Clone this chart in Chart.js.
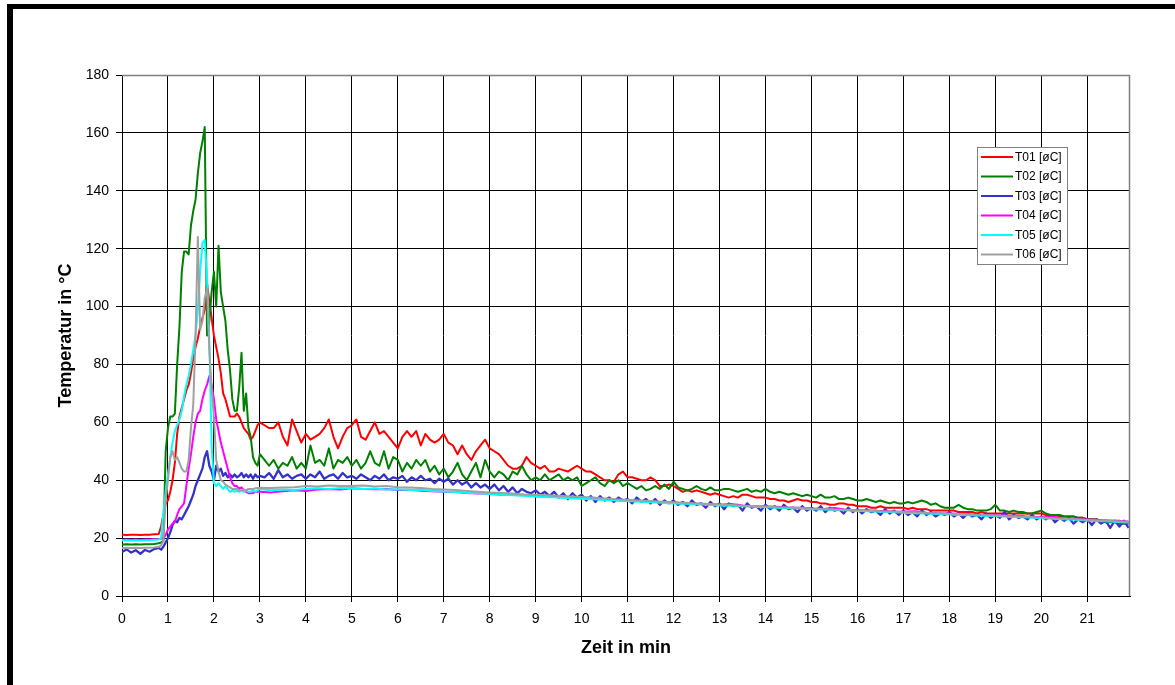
<!DOCTYPE html>
<html lang="de">
<head>
<meta charset="utf-8">
<title>Temperaturverlauf T01–T06</title>
<script src="https://cdn.jsdelivr.net/npm/chart.js"></script>
<style>
  html, body { margin: 0; padding: 0; background: #fff; }
  #chart { display: block; }
</style>
</head>
<body>
<canvas id="chart" width="1175" height="685"></canvas>
<script>
// Sampling instants in minutes: coarse before ignition, dense around the peak,
// then every 0.1 min (fine series) or every 0.25 min (smooth series).
function span(from, to, step) {
  const out = [];
  const n = Math.round((to - from) / step);
  for (let i = 0; i <= n; i++) out.push(+(from + i * step).toFixed(2));
  return out;
}
const timeFine = [...span(0, 0.8, 0.1), ...span(0.85, 3.0, 0.05), ...span(3.1, 21.9, 0.1)];
const timeCoarse = [...span(0, 0.8, 0.1), ...span(0.85, 3.0, 0.05), ...span(3.25, 21.75, 0.25), 21.9];

const seriesNames = ['T01 [øC]', 'T02 [øC]', 'T03 [øC]', 'T04 [øC]', 'T05 [øC]', 'T06 [øC]'];
const seriesColors = ['#ff0000', '#008000', '#3333cc', '#ff00ff', '#00ffff', '#a0a0a0'];
const seriesWidths = [2, 2, 2.3, 2, 2, 2];

const xTickMax = 21;
const yTickMax = 180;
const yTickStep = 20;

// T01 (fine sampling)
const t01 = [
  21.2, 21.1, 21.2, 21.2, 21.1, 21.2, 21.2, 21.3, 21.4,
  24, 28, 32, 33, 36, 40, 46, 56, 62, 65, 68, 71, 73, 77, 82, 86, 89, 93, 96, 99,
  108, 102, 96, 90, 86, 82, 77, 70, 68, 65, 62, 62, 62, 63, 62, 60, 58, 57, 56, 54, 55, 57, 59, 60,
  59, 58, 58, 60, 55, 52, 61, 57, 53,
  56, 54, 55, 56, 58, 61, 55, 51, 55, 58,
  59, 61, 55, 54, 57, 60, 56, 57, 55, 53,
  51, 55, 57, 55, 57, 52, 56, 54, 53, 54,
  56, 53, 52, 49, 52, 49, 47, 50, 52, 54,
  51, 50, 49, 47, 45, 44, 44, 45, 48, 46,
  45, 44, 45, 43, 43, 44, 43.5, 43, 44, 45,
  44, 43, 43, 42, 41, 40, 40, 39.5, 42, 43,
  41, 41, 40.5, 40, 40, 41, 40, 38, 38, 38.5,
  38, 37, 36, 36.5, 36, 36.5, 36, 35.5, 35, 35.5,
  35, 34.5, 34, 34.5, 34, 35, 35, 34.5, 34, 34,
  34, 33.5, 33.5, 33, 33, 32.5, 33, 33.5, 33, 33,
  32.5, 32.5, 32, 32, 31.5, 31.5, 32, 32, 31.5, 31.5,
  31, 31, 31, 30.5, 30.5, 31, 30.5, 30.5, 30.5, 30.5,
  30.5, 30, 30.5, 30, 30, 30, 29.5, 29.5, 29.5, 29.5,
  29.5, 29.5, 29, 29, 29, 29, 28.5, 29, 28.5, 28.5,
  28.5, 28.5, 28.5, 28.5, 28.5, 28.5, 28.5, 28.5, 28.5, 28.5,
  28.5, 28, 28, 28, 27.5, 27.5, 27.5, 27.5, 27, 27,
  26.5, 26.5, 26.5, 26, 26, 26, 26, 26, 25.5, 25.5
];

// T02 (fine sampling)
const t02 = [
  17.8, 17.9, 17.8, 17.9, 17.8, 17.9, 17.9, 18, 18.2,
  18.5, 19, 50, 58, 62, 62, 63, 80, 93, 112, 119, 119, 118, 128, 133, 137, 146, 153, 157, 162,
  90, 95, 105, 112, 100, 121, 105, 100, 95, 85, 78, 68, 64, 64, 72, 84, 64, 70, 58, 55, 48, 46, 45, 49,
  47, 45, 47, 44, 46, 45, 48, 44, 46,
  44, 52, 46, 47, 45, 51, 44, 47, 46, 48,
  45, 47, 44, 46, 50, 46, 45, 50, 44, 48,
  47, 43, 46, 44, 47, 45, 47, 43, 45, 42,
  44, 41, 43, 46, 42, 40, 43, 46, 41, 47,
  43, 41, 43, 42, 40, 43, 42, 45, 42, 40,
  41, 40, 42, 40, 41, 42, 40, 41, 40, 41,
  38, 39, 40, 41, 39, 38, 40, 39, 40, 38,
  39, 38, 37, 38, 36.5, 37, 38, 37, 38.5, 37,
  39.5, 37.5, 37, 36.5, 37, 38, 37, 36.5, 37.5, 36.5,
  36.5, 37, 37, 36.5, 36, 36.5, 37, 36, 36.5, 36,
  37, 36, 35.5, 36, 35.5, 35, 35.5, 35, 34.5, 35,
  34.5, 34, 35, 34, 34, 34.5, 33.5, 33.5, 34, 33.5,
  33, 33, 33.5, 33, 32.5, 33, 32.5, 32, 32.5, 32,
  32, 32.5, 32, 32.5, 33, 32.5, 31.5, 32, 31, 30.5,
  30.5, 30.5, 31.5, 30.5, 30, 30, 29.5, 29.5, 29.5, 30,
  31.5, 29.5, 29.5, 29, 29.5, 29, 29, 28.5, 28.5, 29,
  29.5, 28.5, 28, 28, 28, 27.5, 27.5, 27.5, 27, 27,
  26.5, 26.5, 26, 26, 25.5, 25.5, 25.5, 25, 25, 25
];

// T03 (fine sampling, noisy sensor)
const t03 = [
  15.2, 16.1, 15, 15.8, 14.6, 15.9, 15.3, 16.2, 16.6,
  16, 17, 18.5, 20, 22, 24.5, 26, 25.5, 27, 26.5, 28, 29.5, 31, 33, 35, 38, 40, 42, 44, 48,
  50, 45, 43, 40, 45, 43, 44, 41.5, 42.5, 41, 42, 41, 42, 41, 41.5, 42.5, 41, 42, 41, 42, 40.5, 42, 41, 41.5,
  41, 42.5, 40.5, 43.5, 41, 42, 40.5, 41.5, 42,
  40.5, 42, 41, 43, 40.5, 41.5, 42, 40.5, 42.5, 41,
  41.5, 40.5, 42, 41, 40, 41.5, 40.5, 42, 40, 41,
  40.5, 41.5, 39.5, 41, 40, 41.5, 40, 40.5, 39, 40.5,
  39.5, 40.5, 38.5, 40, 38.5, 39.5, 37.5, 39, 37.5, 38.5,
  37, 38.5, 36.5, 38, 36, 37.5, 35.5, 37, 36, 35.5,
  36.5, 35, 36, 34.5, 36, 34, 35.5, 33.5, 35.5, 34,
  35, 33, 34.5, 32.5, 34.5, 33, 34, 32.5, 34, 33,
  33.5, 32, 34, 32.5, 33.5, 32, 33.5, 31.5, 33, 32,
  33, 31.5, 32.5, 31, 33, 31.5, 32, 30.5, 32.5, 31,
  32, 30, 32, 31, 31.5, 29.5, 32, 30.5, 31, 29.5,
  31.5, 30, 31, 29.5, 31.5, 30, 30.5, 29, 31, 29.5,
  30.5, 29.5, 31, 29, 30.5, 29.5, 30, 28.5, 30.5, 29,
  30, 28.5, 30, 29, 29.5, 28, 30, 28.5, 29.5, 28,
  29.5, 28, 29, 27.5, 29.5, 28, 29, 27.5, 28.5, 28,
  29, 27.5, 28.5, 27, 28.5, 27.5, 28, 26.5, 28.5, 27,
  28, 27, 29, 26.5, 28, 27, 27.5, 26.5, 28, 26.5,
  27.5, 26.5, 27.5, 25.5, 27, 26, 27, 25, 26.5, 25.5,
  26.5, 24.5, 26.5, 25, 26, 23.5, 26, 24, 26, 23.5
];

// T04 (coarse sampling)
const t04 = [
  19.4, 19.5, 19.4, 19.5, 19.4, 19.5, 19.5, 19.6, 19.7,
  19.8, 20, 21, 23, 24, 25, 25.5, 28, 30, 31, 32, 38, 44, 49, 55, 60, 63, 64, 68, 71,
  73, 76, 73, 68, 61, 57, 53, 50, 47, 44, 41, 39, 38, 38, 37, 37.5, 36.5, 36, 35.5, 35.5, 35.5, 36, 36, 36,
  35.8, 36.2, 36.5, 36.3, 36.8, 37, 36.8, 37.2, 37, 36.9, 37, 36.6, 36.7, 36.4, 36.2, 36,
  35.9, 35.6, 35.4, 35.3, 35, 34.9, 34.8, 34.5, 34.3, 34.2, 33.9, 33.8, 33.5, 33.4, 33.1, 33,
  32.8, 32.6, 32.4, 32.3, 32, 31.9, 31.8, 31.5, 31.8, 31.3, 31, 30.9, 30.8, 30.5, 30.5, 30.2,
  30.1, 30.4, 29.8, 29.6, 29.5, 29.4, 29.2, 29.1, 29.3, 28.8, 28.6, 28.5, 28.3, 28.2, 28, 27.9,
  27.7, 27.6, 27.4, 27.2, 27.4, 26.8, 26.6, 26.4, 26.2, 26, 25.8, 25.7
];

// T05 (coarse sampling)
const t05 = [
  19.2, 19.3, 19.2, 19.3, 19.2, 19.3, 19.3, 19.4, 19.5,
  20, 29, 36, 42, 48, 53, 57, 59, 61, 64, 69, 73, 76, 80, 85, 90, 99, 112, 122, 123,
  110, 88, 52, 39, 38, 39, 38, 37, 38, 37, 36, 36.5, 36, 36.5, 36, 36.5, 36, 36.5, 36, 36, 36.5, 36, 36.5, 37,
  36.5, 36.8, 36.6, 37, 37.2, 37, 37.3, 37.2, 37, 37.1, 36.8, 36.9, 36.6, 36.7, 36.3, 36.1,
  35.9, 35.7, 35.5, 35.2, 35, 34.8, 34.6, 34.4, 34.2, 34, 33.8, 33.6, 33.4, 33.2, 33, 32.8,
  32.6, 32.4, 32.2, 32, 31.9, 31.7, 31.5, 31.3, 31.2, 31, 30.8, 30.7, 30.5, 30.3, 30.2, 30,
  29.9, 29.7, 29.6, 29.4, 29.3, 29.1, 29, 28.8, 28.6, 28.5, 28.3, 28.2, 28, 27.9, 27.7, 27.6,
  27.4, 27.3, 27.1, 26.9, 26.7, 26.5, 26.3, 26.1, 25.9, 25.7, 25.5, 25.4
];

// T06 (coarse sampling)
const t06 = [
  16.6, 16.7, 16.6, 16.7, 16.6, 16.7, 16.7, 16.8, 17,
  17.5, 19, 33, 40, 48, 50, 47, 48, 46, 44, 43, 43, 47, 58, 66, 90, 124, 92, 95, 103,
  106, 85, 72, 62, 47, 43, 40, 39.5, 38.5, 38, 37.5, 37, 37, 37, 36.5, 36.5, 36.8, 36.5, 37, 37, 37, 37.2, 37.3, 37.4,
  37.3, 37.5, 37.6, 38, 37.8, 38.2, 38, 38, 38.2, 37.8, 38, 37.6, 37.5, 37.3, 37, 36.8,
  36.6, 36.3, 36, 35.8, 35.6, 35.4, 35.1, 35, 34.8, 34.6, 34.4, 34.2, 34, 33.7, 33.4, 33.2,
  33, 32.8, 32.6, 32.4, 32.2, 32, 31.8, 31.6, 31.4, 31.2, 31.1, 30.9, 30.7, 30.6, 30.4, 30.2,
  30.1, 29.9, 29.8, 29.6, 29.5, 29.3, 29.2, 29, 28.9, 28.7, 28.6, 28.4, 28.3, 28.1, 28, 27.8,
  27.6, 27.5, 27.3, 27.1, 26.9, 26.7, 26.5, 26.3, 26.1, 25.9, 25.7, 25.6
];

const seriesValues = [t01, t02, t03, t04, t05, t06];
const seriesTimes = [timeFine, timeFine, timeFine, timeCoarse, timeCoarse, timeCoarse];

const FONT = "'Liberation Sans', Arial, Helvetica, sans-serif";

// Outer black frame (left and top edges) and white page.
const framePlugin = {
  id: 'frame',
  beforeDraw(chart) {
    const ctx = chart.ctx;
    ctx.save();
    ctx.fillStyle = '#ffffff';
    ctx.fillRect(0, 0, chart.width, chart.height);
    ctx.fillStyle = '#000000';
    ctx.fillRect(7, 4, chart.width - 7, 5);
    ctx.fillRect(7, 4, 6, chart.height - 4);
    ctx.restore();
  },
  afterDraw(chart) {
    // grey plot-area outline on the top and right sides
    const {left, top, right, bottom} = chart.chartArea;
    const ctx = chart.ctx;
    ctx.save();
    ctx.strokeStyle = '#808080';
    ctx.lineWidth = 1.5;
    ctx.beginPath();
    ctx.moveTo(left, top + 0.5);
    ctx.lineTo(right - 0.5, top + 0.5);
    ctx.lineTo(right - 0.5, bottom);
    ctx.stroke();
    ctx.restore();
  }
};

// Boxed legend sitting inside the plot area, upper right.
const boxLegendPlugin = {
  id: 'boxLegend',
  afterDraw(chart) {
    const ctx = chart.ctx;
    const x0 = 977, y0 = 147, w = 90, h = 117;
    ctx.save();
    ctx.fillStyle = '#ffffff';
    ctx.fillRect(x0, y0, w, h);
    ctx.strokeStyle = '#808080';
    ctx.lineWidth = 1;
    ctx.strokeRect(x0 + 0.5, y0 + 0.5, w, h);
    ctx.font = '12px ' + FONT;
    ctx.textBaseline = 'middle';
    ctx.textAlign = 'left';
    chart.data.datasets.forEach((ds, i) => {
      const y = y0 + 10 + i * 19.5;
      ctx.strokeStyle = ds.borderColor;
      ctx.lineWidth = 2;
      ctx.beginPath();
      ctx.moveTo(x0 + 4, y);
      ctx.lineTo(x0 + 36, y);
      ctx.stroke();
      ctx.fillStyle = '#000000';
      ctx.fillText(ds.label, x0 + 38, y + 0.5);
    });
    ctx.restore();
  }
};

const datasets = seriesNames.map((name, i) => ({
  label: name,
  data: seriesTimes[i].map((t, k) => ({x: t, y: seriesValues[i][k]})),
  borderColor: seriesColors[i],
  backgroundColor: seriesColors[i],
  borderWidth: seriesWidths[i],
  borderJoinStyle: 'round',
  pointRadius: 0,
  tension: 0,
  fill: false,
  order: seriesNames.length - i
}));

new Chart(document.getElementById('chart'), {
  type: 'line',
  data: { datasets },
  options: {
    responsive: false,
    animation: false,
    events: [],
    layout: { padding: { top: 75, right: 45, bottom: 0, left: 0 } },
    scales: {
      x: {
        type: 'linear',
        min: 0,
        max: 21.93,
        afterFit(scale) { scale.height = 89; },
        ticks: {
          stepSize: 1,
          includeBounds: false,
          autoSkip: false,
          maxRotation: 0,
          color: '#000',
          padding: 9,
          font: { family: FONT, size: 14 },
          callback: (v) => (v <= xTickMax ? String(v) : '')
        },
        grid: { color: '#000', lineWidth: 1, tickLength: 6, drawTicks: true },
        border: { display: true, color: '#000', width: 1 },
        title: {
          display: true,
          text: 'Zeit in min',
          color: '#000',
          font: { family: FONT, size: 18, weight: 'bold' },
          padding: { top: 0, bottom: 26 }
        }
      },
      y: {
        min: 0,
        max: yTickMax,
        afterFit(scale) { scale.width = 122; },
        ticks: {
          stepSize: yTickStep,
          color: '#000',
          padding: 7,
          font: { family: FONT, size: 14 }
        },
        grid: { color: '#000', lineWidth: 1, tickLength: 6, drawTicks: true },
        border: { display: true, color: '#000', width: 1 },
        title: {
          display: true,
          text: 'Temperatur in °C',
          color: '#000',
          font: { family: FONT, size: 18, weight: 'bold' },
          padding: { top: 55, bottom: 0 }
        }
      }
    },
    plugins: {
      legend: { display: false },
      tooltip: { enabled: false }
    }
  },
  plugins: [framePlugin, boxLegendPlugin]
});
</script>
</body>
</html>
